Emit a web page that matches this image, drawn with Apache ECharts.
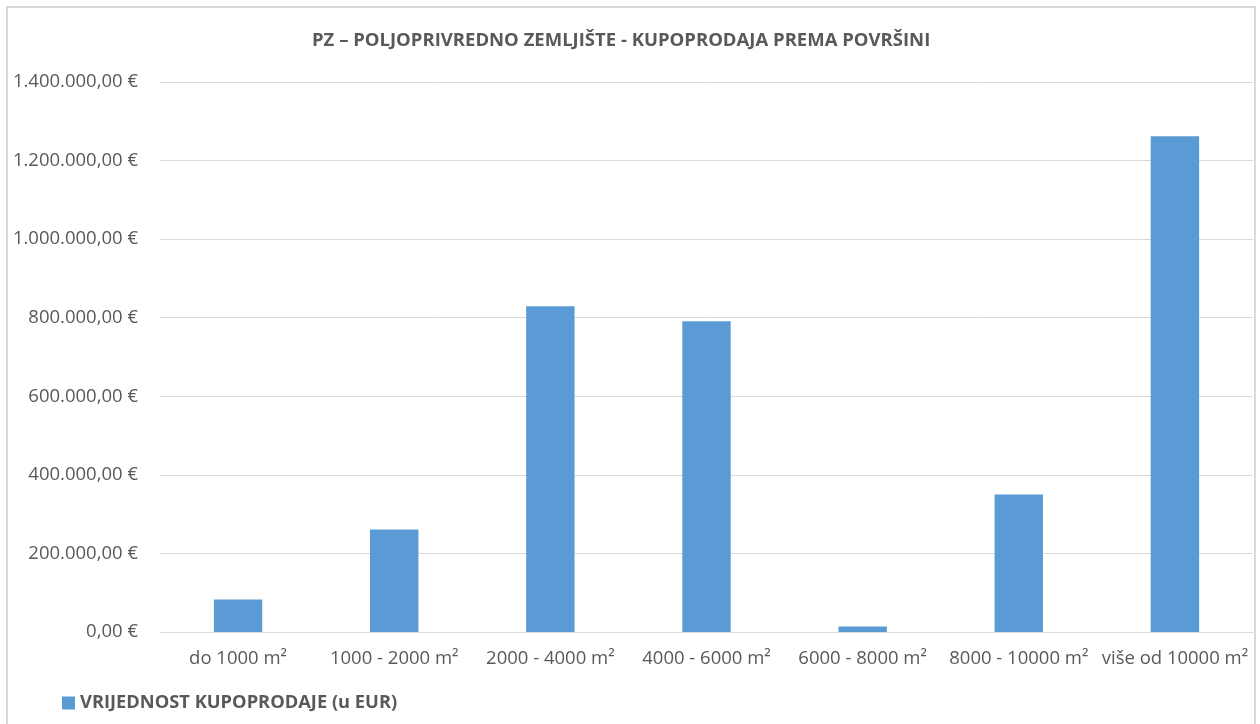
<!DOCTYPE html>
<html>
<head>
<meta charset="utf-8">
<script src="https://cdn.jsdelivr.net/npm/echarts@6/dist/echarts.min.js"></script>
<style>
  html, body { margin: 0; padding: 0; background: #fff; }
  #chart { width: 1260px; height: 724px; }
</style>
</head>
<body>
<div id="chart"></div>
<script>
const categories = ["do 1000 m²", "1000 - 2000 m²", "2000 - 4000 m²", "4000 - 6000 m²", "6000 - 8000 m²", "8000 - 10000 m²", "više od 10000 m²"]
const values = [83000, 261000, 829000, 791000, 14000, 350000, 1262000]
const seriesName = "VRIJEDNOST KUPOPRODAJE (u EUR)"
const titleText = "PZ – POLJOPRIVREDNO ZEMLJIŠTE - KUPOPRODAJA PREMA POVRŠINI"

const fmtEur = (v) => {
  const s = Math.round(v).toString().replace(/\B(?=(\d{3})+(?!\d))/g, ".")
  return s + ",00 €"
}

const font = "'Open Sans', Lato, sans-serif"
const myChart = echarts.init(document.getElementById("chart"))

myChart.setOption({
  animation: false,
  textStyle: { fontFamily: font },
  title: {
    text: titleText,
    left: 307,
    top: 26,
    textStyle: { color: "#595959", fontSize: 18.5, fontWeight: "bold", fontFamily: font }
  },
  legend: {
    data: [seriesName],
    left: 57,
    top: 689,
    icon: "rect",
    itemWidth: 13,
    itemHeight: 13,
    itemGap: 6,
    textStyle: { color: "#595959", fontSize: 18.3, fontWeight: "bold", fontFamily: font }
  },
  grid: {
    left: 160,
    right: 7,
    top: 82,
    bottom: 92,
    containLabel: false
  },
  xAxis: {
    type: "category",
    data: categories,
    axisLine: { lineStyle: { color: "#d9d9d9", width: 1 } },
    axisTick: { show: false },
    axisLabel: { color: "#595959", fontSize: 18.5, margin: 17, interval: 0, fontFamily: font }
  },
  yAxis: {
    type: "value",
    min: 0,
    max: 1400000,
    interval: 200000,
    axisLine: { show: false },
    axisTick: { show: false },
    splitLine: { lineStyle: { color: "#d9d9d9", width: 1 } },
    axisLabel: { color: "#595959", fontSize: 18.5, margin: 22, formatter: fmtEur, fontFamily: font }
  },
  graphic: [{
    type: "rect",
    shape: { x: 7, y: 7, width: 1248, height: 740 },
    style: { fill: "none", stroke: "#d9d9d9", lineWidth: 2 },
    silent: true
  }],
  series: [{
    name: seriesName,
    type: "bar",
    data: values,
    barCategoryGap: "69%",
    itemStyle: { color: "#5b9bd5" }
  }]
})
</script>
</body>
</html>
